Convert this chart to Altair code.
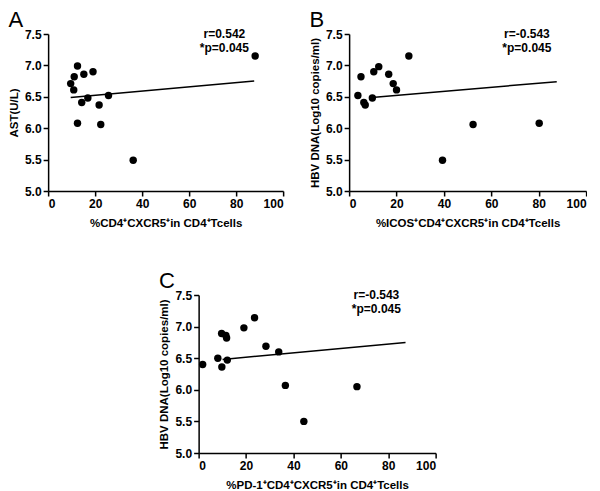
import altair as alt
import pandas as pd

# Panel A
a_x = [9.6, 11.1, 12.5, 10.9, 15.2, 19.1, 14.3, 16.9, 21.7, 25.7, 12.5, 22.4, 36.2, 88.1]
a_y = [6.71, 6.82, 6.99, 6.61, 6.86, 6.90, 6.41, 6.48, 6.37, 6.52, 6.08, 6.06, 5.49, 7.15]
a_line_x = [9.6, 87.7]
a_line_y = [6.49, 6.75]

# Panel B
b_x = [3.7, 5.0, 6.2, 6.8, 9.8, 10.4, 12.5, 16.7, 18.6, 20.0, 25.2, 39.4, 52.3, 80.2]
b_y = [6.52, 6.82, 6.41, 6.37, 6.48, 6.90, 6.98, 6.86, 6.71, 6.61, 7.15, 5.49, 6.06, 6.08]
b_line_x = [9.6, 87.6]
b_line_y = [6.49, 6.74]

# Panel C
c_x = [1.7, 8.1, 9.8, 12.1, 9.7, 11.5, 11.8, 19.1, 23.6, 28.4, 33.8, 36.6, 44.4, 66.8]
c_y = [6.40, 6.50, 6.36, 6.47, 6.89, 6.86, 6.82, 6.98, 7.14, 6.69, 6.60, 6.07, 5.50, 6.05]
c_line_x = [10.1, 87.3]
c_line_y = [6.48, 6.75]

x_ticks = [0, 20, 40, 60, 80, 100]
y_ticks = [5.0, 5.5, 6.0, 6.5, 7.0, 7.5]

ann_x = 75
ann_y = [7.5, 7.28]

FONT = "Liberation Sans"


def panel(xs, ys, lx, ly, xtitle, ytitle, label, r_text, p_text, w, h):
    pts = pd.DataFrame({"x": xs, "y": ys})
    ln = pd.DataFrame({"x": lx, "y": ly})
    ann = pd.DataFrame({"x": [ann_x, ann_x], "y": ann_y, "t": [r_text, p_text]})
    xs_ = alt.Scale(domain=[0, 100], nice=False)
    ys_ = alt.Scale(domain=[5.0, 7.5], nice=False)
    xax = alt.Axis(values=x_ticks, title=xtitle, format="d", labelOverlap=False, titlePadding=8)
    yax = alt.Axis(values=y_ticks, title=ytitle, format=".1f", labelOverlap=False, titlePadding=5)
    points = alt.Chart(pts).mark_circle(size=55, color="black", opacity=1).encode(
        x=alt.X("x:Q", scale=xs_, axis=xax),
        y=alt.Y("y:Q", scale=ys_, axis=yax),
    )
    line = alt.Chart(ln).mark_line(color="black", strokeWidth=1.5).encode(
        x=alt.X("x:Q", scale=xs_, axis=xax), y=alt.Y("y:Q", scale=ys_, axis=yax)
    )
    text = alt.Chart(ann).mark_text(
        font=FONT, fontWeight="bold", fontSize=12, color="black", align="center", baseline="middle"
    ).encode(
        x=alt.X("x:Q", scale=xs_, axis=xax),
        y=alt.Y("y:Q", scale=ys_, axis=yax),
        text="t:N",
    )
    return alt.layer(points, line, text).properties(
        width=w,
        height=h,
        title=alt.TitleParams(
            label, anchor="start", frame="bounds", font=FONT, fontSize=22,
            fontWeight="normal", color="black", offset=-4,
        ),
    )


A = panel(a_x, a_y, a_line_x, a_line_y, "%CD4⁺CXCR5⁺in CD4⁺Tcells", "AST(U/L)",
          "A", "r=0.542", "*p=0.045", 235, 157)
B = panel(b_x, b_y, b_line_x, b_line_y, "%ICOS⁺CD4⁺CXCR5⁺in CD4⁺Tcells",
          "HBV DNA(Log10 copies/ml)", "B", "r=-0.543", "*p=0.045", 237, 157)
C = panel(c_x, c_y, c_line_x, c_line_y, "%PD-1⁺CD4⁺CXCR5⁺in CD4⁺Tcells",
          "HBV DNA(Log10 copies/ml)", "C", "r=-0.543", "*p=0.045", 237, 158)

row = alt.hconcat(A, B, spacing=25)
chart = alt.vconcat(row, C, spacing=41, center=True).properties(
    padding={"left": 0, "top": 1, "right": 0, "bottom": 0}, background="white"
).configure_view(stroke=None).configure_axis(
    grid=False,
    domainColor="black",
    domainWidth=1.5,
    tickColor="black",
    tickWidth=1.5,
    tickSize=5,
    labelFont=FONT,
    labelFontWeight="bold",
    labelFontSize=12,
    labelColor="black",
    labelPadding=2,
    titleFont=FONT,
    titleFontWeight="bold",
    titleFontSize=11.5,
    titleColor="black",
)

chart.save("out.html", embed_options={"renderer": "svg", "actions": False})
